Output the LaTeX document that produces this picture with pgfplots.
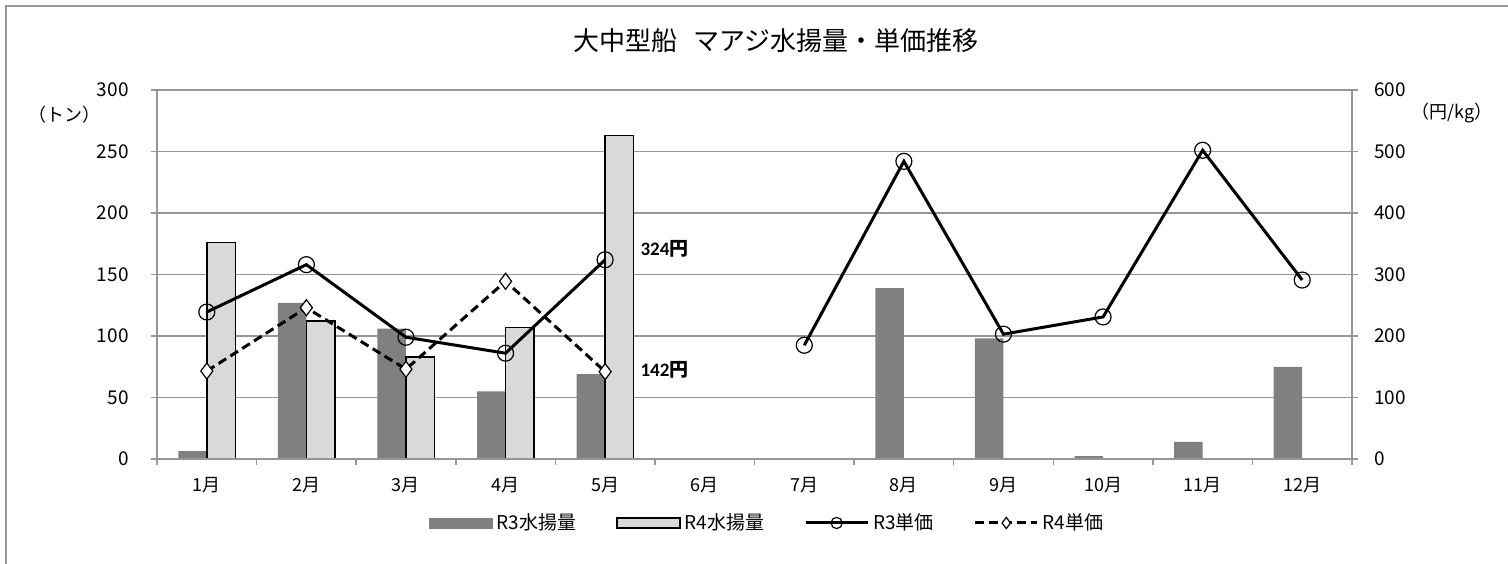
\documentclass[border=0pt]{standalone}
\usepackage{fontspec}
\setmainfont{Noto Sans CJK JP}
\newfontfamily\lab{Carlito}
\usepackage{pgfplots}
\pgfplotsset{compat=1.18}
\definecolor{gridc}{RGB}{150,150,150}
\definecolor{rthree}{RGB}{128,128,128}
\definecolor{rfour}{RGB}{217,217,217}
\pgfplotsset{linelegend/.style={legend image code/.code={\draw[##1, mark repeat=2, mark phase=2, mark size=2.8pt] plot coordinates {(0pt,0pt)(15.5pt,0pt)(31pt,0pt)};}}}
\begin{document}
\begin{tikzpicture}[x=1pt,y=1pt]
\useasboundingbox (0,0) rectangle (754,281.5);
\draw[gridc, line width=1pt] (3,-2) -- (3,278.5) -- (756,278.5);
\node[font=\fontsize{13}{16}\selectfont] at (388,261) {大中型船\hspace{0.6em}マアジ水揚量・単価推移};
\node[font=\fontsize{9}{10}\selectfont] at (32,224) {（トン）};
\node[font=\fontsize{9}{10}\selectfont] at (726,225) {（円/kg）};
\begin{axis}[
  at={(78.5pt,52pt)}, anchor=south west,
  width=597.5pt, height=184.5pt, scale only axis,
  xmin=0.5, xmax=12.5, ymin=0, ymax=300,
  ytick={0,50,...,300},
  xtick={1,...,12},
  xticklabels={1月,2月,3月,4月,5月,6月,7月,8月,9月,10月,11月,12月},
  xtick style={draw=none},
  ytick pos=left, tick align=outside, major tick length=3pt,
  ymajorgrids, grid style={gridc, line width=0.75pt},
  axis line style={gridc, line width=0.75pt},
  ytick style={gridc, line width=0.75pt},
  yticklabel style={font=\fontsize{9.5}{10}\selectfont, inner xsep=11pt},
  xticklabel style={yshift=-2.5pt, font=\fontsize{9}{10}\selectfont},
  /pgf/number format/assume math mode=true,
  ybar, bar width=14.25pt,
]
\addplot[fill=rthree, draw=none, bar shift=-7.125pt] coordinates {
(1,6.5)(2,127)(3,106)(4,55)(5,69)(8,139)(9,98)(10,2.4)(11,14)(12,75)};
\addplot[fill=rfour, draw=black, line width=0.75pt, bar shift=7.125pt] coordinates {
(1,176)(2,112)(3,83)(4,107)(5,263)};
\end{axis}
\begin{axis}[
  at={(78.5pt,52pt)}, anchor=south west,
  width=597.5pt, height=184.5pt, scale only axis,
  xmin=0.5, xmax=12.5, ymin=0, ymax=600,
  ytick={0,100,...,600},
  xtick={0.5,1.5,...,12.5}, xticklabels={},
  axis y line*=right, axis x line*=bottom,
  tick align=outside, major tick length=3pt,
  axis line style={gridc, line width=0.75pt},
  tick style={gridc, line width=0.75pt},
  yticklabel style={font=\fontsize{9.5}{10}\selectfont, inner xsep=8pt},
  /pgf/number format/assume math mode=true,
  unbounded coords=jump,
  legend columns=4,
  legend style={at={(0.5113,-0.1734)}, anchor=center, draw=none, fill=none,
    font=\fontsize{9.5}{10}\selectfont,
    /tikz/every even column/.append style={column sep=18pt},
    inner sep=0pt},
  legend cell align=left,
]
\addlegendimage{legend image code/.code={\fill[rthree] (0pt,-2.5pt) rectangle (31.5pt,2.5pt);}}
\addlegendentry{R3水揚量}
\addlegendimage{legend image code/.code={\draw[fill=rfour,draw=black,line width=0.75pt] (0pt,-2.5pt) rectangle (31.5pt,2.5pt);}}
\addlegendentry{R4水揚量}
\addplot[black, line width=1.5pt, mark=o, mark size=4pt, mark options={line width=0.6pt, solid}, linelegend]
coordinates {(1,239)(2,316)(3,198)(4,172)(5,324)(6,nan)(7,185)(8,484)(9,203)(10,231)(11,502)(12,291)};
\addlegendentry{R3単価}
\addplot[black, line width=1.5pt, dash pattern=on 4.5pt off 2.5pt, mark=diamond*, mark size=4pt, mark options={fill=white, line width=0.6pt, solid}, linelegend]
coordinates {(1,143)(2,246)(3,146)(4,289)(5,142)};
\addlegendentry{R4単価}
\node[anchor=west, inner sep=0pt, font=\fontsize{9.5}{10}\selectfont] at (axis cs:5,324) [xshift=17.5pt, yshift=5.5pt] {{\lab\bfseries 324}{\bfseries 円}};
\node[anchor=west, inner sep=0pt, font=\fontsize{9.5}{10}\selectfont] at (axis cs:5,142) [xshift=17.5pt, yshift=1pt] {{\lab\bfseries 142}{\bfseries 円}};
\end{axis}
\end{tikzpicture}
\end{document}
